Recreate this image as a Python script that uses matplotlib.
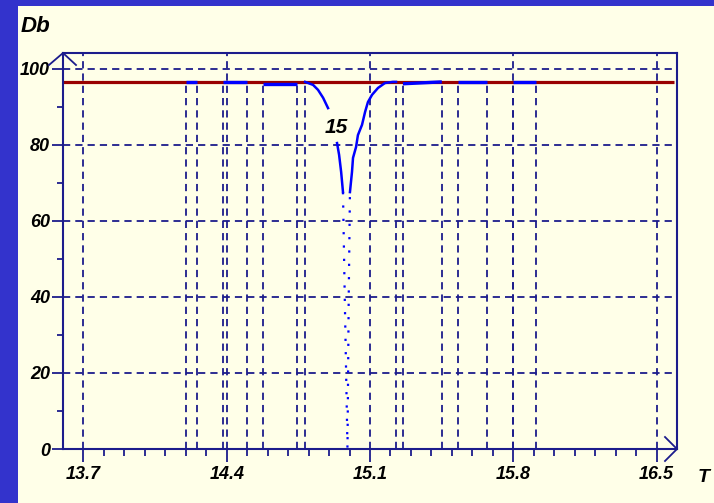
import numpy as np
import matplotlib.pyplot as plt
from matplotlib.patches import Rectangle
from matplotlib.ticker import FixedLocator

# colours
BG = '#3333cc'
PANEL = '#ffffe8'
NAVY = '#1c1c8c'
RED = '#990000'
BLUE = '#0000ff'

# data
x_major = [13.7, 14.4, 15.1, 15.8, 16.5]
y_major = [0, 20, 40, 60, 80, 100]
y_minor = [10, 30, 50, 70, 90]

red_level = 96.6

# vertical marker lines (band edges)
markers = [14.202, 14.256, 14.383, 14.5, 14.578, 14.744, 14.783,
           15.227, 15.261, 15.451, 15.529, 15.671, 15.8, 15.91]

# flat blue band segments
band_lo = [14.202, 14.383, 14.578, 15.261, 15.529, 15.8]
band_hi = [14.256, 14.5, 14.744, 15.451, 15.671, 15.91]
band_lo_db = [96.6, 96.6, 96.1, 96.1, 96.6, 96.6]
band_hi_db = [96.6, 96.6, 96.1, 96.6, 96.6, 96.6]

# notch around 15.0 (solid part, NaN where the label sits)
dip_f = [14.783, 14.822, 14.846, 14.871, 14.895, np.nan,
         14.939, 14.949, 14.959, 14.968]
dip_db = [96.6, 95.8, 94.5, 92.4, 89.7, np.nan,
          80.5, 77.4, 72.9, 67.6]
rise_f = [15.002, 15.012, 15.017, 15.032, 15.041, 15.061, 15.076,
          15.090, 15.110, 15.139, 15.173, 15.212, 15.227]
rise_db = [67.6, 72.9, 76.6, 79.5, 82.6, 85.3, 88.7,
           91.3, 93.2, 95.0, 96.3, 96.6, 96.6]
# dotted bottom of the notch
tip_f = [14.968, 14.975, 14.990, 14.996, 15.002]
tip_db = [67.6, 45.0, 0.0, 40.0, 67.6]

fig = plt.figure(figsize=(7.14, 5.03), dpi=100, facecolor=BG)
fig.patches.append(Rectangle((18 / 714, 0), 1, 1 - 6 / 503, transform=fig.transFigure,
                             facecolor=PANEL, edgecolor='none', zorder=-1))

ax = fig.add_axes([63 / 714, 54 / 503, 614 / 714, 396 / 503])
ax.set_facecolor(PANEL)
ax.set_xlim(13.6, 16.6)
ax.set_ylim(0, 104.2)

dash = (0, (4, 2.8))
for x in x_major:
    ax.axvline(x, color=NAVY, lw=1.3, linestyle=dash, zorder=1)
for y in y_major[1:]:
    ax.axhline(y, color=NAVY, lw=1.3, linestyle=dash, zorder=1)
ax.vlines(markers, 0, red_level, colors=NAVY, lw=1.3, linestyles=[dash], zorder=1)

ax.plot([13.6, 16.585], [red_level, red_level], color=RED, lw=2.3, zorder=2,
        solid_capstyle='butt')

for lo, hi, a, b in zip(band_lo, band_hi, band_lo_db, band_hi_db):
    ax.plot([lo, hi], [a, b], color=BLUE, lw=2.4, zorder=3, solid_capstyle='butt')
ax.plot(dip_f, dip_db, color=BLUE, lw=1.8, zorder=3)
ax.plot(rise_f, rise_db, color=BLUE, lw=1.8, zorder=3)
ax.plot(tip_f, tip_db, color=BLUE, lw=1.6, linestyle=(0, (1, 5)), zorder=3)

tfont = dict(family='Liberation Sans', weight='bold', style='italic')
ax.text(14.934, 84.7, '15', ha='center', va='center', size=15, color='black', **tfont)

# axes frame
for s in ax.spines.values():
    s.set_color(NAVY)
    s.set_linewidth(1.5)

ax.xaxis.set_major_locator(FixedLocator(x_major))
ax.xaxis.set_minor_locator(FixedLocator(np.round(np.arange(13.7, 16.55, 0.1), 2)))
ax.yaxis.set_major_locator(FixedLocator(y_major))
ax.yaxis.set_minor_locator(FixedLocator(y_minor))
ax.set_xticklabels([str(v) for v in x_major])
ax.set_yticklabels([str(v) for v in y_major])
ax.tick_params(axis='x', which='major', length=9, width=1.3, color=NAVY, pad=3, labelsize=13)
ax.tick_params(axis='x', which='minor', length=5, width=1.3, color=NAVY)
ax.tick_params(axis='y', which='major', length=8, width=1.3, color=NAVY, pad=1.5, labelsize=13)
ax.tick_params(axis='y', which='minor', length=4.5, width=1.3, color=NAVY)
for lab in ax.get_xticklabels() + ax.get_yticklabels():
    lab.set_fontfamily('Liberation Sans')
    lab.set_fontweight('bold')
    lab.set_fontstyle('italic')
    lab.set_color('black')

# arrow chevrons at axis ends
ax.plot([-14 / 614, 0, 13 / 614], [1 - 12 / 396, 1, 1 - 12 / 396], transform=ax.transAxes,
        color=NAVY, lw=1.3, clip_on=False, zorder=5)
ax.plot([1 - 12 / 614, 1, 1 - 12 / 614], [12 / 396, 0, -12 / 396], transform=ax.transAxes,
        color=NAVY, lw=1.3, clip_on=False, zorder=5)

fig.text(21 / 714, 1 - 27 / 503, 'Db', ha='left', va='center', size=16, color='black', **tfont)
fig.text(698 / 714, 1 - 478 / 503, 'T', ha='left', va='center', size=14, color='black', **tfont)

fig.savefig('out.png', dpi=100, facecolor=BG)
